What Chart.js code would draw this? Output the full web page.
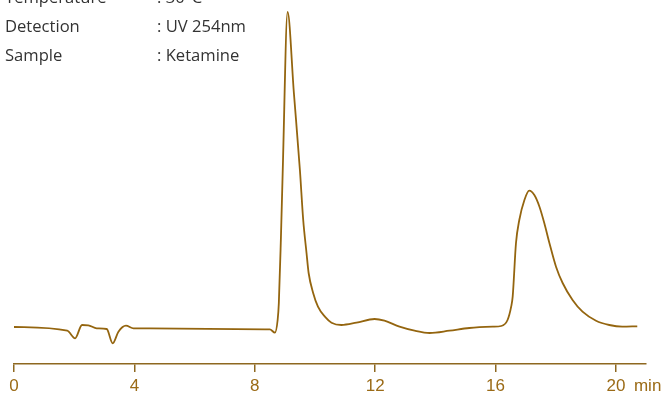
<!DOCTYPE html>
<html>
<head>
<meta charset="utf-8">
<script src="https://cdn.jsdelivr.net/npm/chart.js@4"></script>
<style>
  body { margin: 0; background: #fff; }
  #wrap { position: relative; width: 665px; height: 396px; overflow: hidden; }
  .info { position: absolute; left: 5px; top: -18.3px; font-family: "Open Sans", sans-serif; font-size: 16.6px; line-height: 29px; color: #333; }
  .info div span { display: inline-block; width: 152px; }
</style>
</head>
<body>
<div id="wrap">
  <canvas id="chart"></canvas>
  <div class="info">
    <div><span>Temperature</span>: 30°C</div>
    <div><span>Detection</span>: UV 254nm</div>
    <div><span>Sample</span>: Ketamine</div>
  </div>
</div>
<script>
// retention time (min) and detector signal (arbitrary units, baseline ~0)
const times = [0, 1.77, 2.03, 2.26, 2.47, 2.75, 3.08, 3.28, 3.47, 3.72, 3.97, 4.52,
  8.34, 8.5, 8.67, 8.76, 8.8, 8.87, 8.93, 9.09, 9.3, 9.5, 9.61, 9.72, 9.79, 9.94,
  10.1, 10.33, 10.55, 10.88,
  11.38, 11.98, 12.31, 12.81, 13.31, 13.81, 14.47, 15.13, 15.91, 16.19, 16.4,
  16.52, 16.57, 16.68, 16.79, 16.96, 17.12, 17.29, 17.46, 17.62, 17.79, 18.01,
  18.23, 18.56, 18.89, 19.34, 19.78, 20.21, 20.71];
const signal = [1, -2.7, -10.3, 3, 2.7, -0.3, -1, -15.3, -3.7, 2.3, -0.3, -0.3,
  -1.3, -1.3, -4.7, 8, 25, 91, 158, 316, 235, 158, 108, 75, 55, 35,
  21.3, 11.3, 5.3, 3,
  5.3, 9, 7.3, 1.3, -2.7, -5, -2.7, 0, 1.3, 2, 8,
  21.3, 31.3, 85, 108, 128, 137.3, 133, 121.3, 105, 85, 61.3,
  45, 28, 16.3, 7.3, 3, 1.3, 1.7];
const xTicks = [0, 4, 8, 12, 16, 20];

const traceColor = '#94650f';
const axisColor = '#8e6820';

const unitLabel = {
  id: 'unitLabel',
  afterDraw(chart) {
    const ctx = chart.ctx;
    const x = chart.scales.x;
    ctx.save();
    ctx.font = '17px "Liberation Sans", Arial, sans-serif';
    ctx.fillStyle = '#9b6b17';
    ctx.textBaseline = 'alphabetic';
    ctx.fillText('min', x.getPixelForValue(20.6), 391);
    ctx.restore();
  }
};

new Chart(document.getElementById('chart'), {
  type: 'line',
  data: {
    datasets: [{
      data: times.map((t, i) => ({ x: t, y: signal[i] })),
      borderColor: traceColor,
      borderWidth: 1.8,
      pointRadius: 0,
      cubicInterpolationMode: 'monotone',
      fill: false,
    }],
  },
  options: {
    responsive: true,
    maintainAspectRatio: false,
    animation: false,
    layout: { padding: { left: 14, right: 19, top: 0, bottom: 0 } },
    plugins: { legend: { display: false }, tooltip: { enabled: false } },
    scales: {
      x: {
        type: 'linear',
        min: 0,
        max: 21,
        afterFit(scale) { scale.height = 32; },
        afterBuildTicks(scale) { scale.ticks = xTicks.map((v) => ({ value: v })); },
        grid: { drawOnChartArea: false, drawTicks: true, tickLength: 8, color: axisColor, lineWidth: 1.5 },
        border: { display: true, color: axisColor, width: 1.5 },
        ticks: {
          padding: 4,
          color: '#9b6b17',
          font: { family: '"Liberation Sans", Arial, sans-serif', size: 17 },
          maxRotation: 0,
          autoSkip: false,
        },
      },
      y: { display: false, min: -36, max: 328 },
    },
  },
  plugins: [unitLabel],
});
</script>
</body>
</html>
